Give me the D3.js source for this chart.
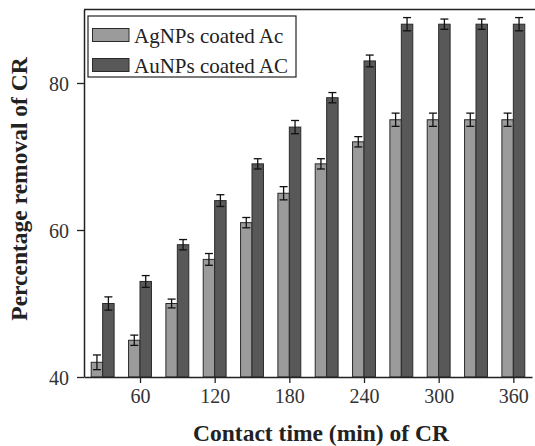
<!DOCTYPE html>
<html>
<head>
<meta charset="utf-8">
<script src="https://cdn.jsdelivr.net/npm/d3@7"></script>
<style>
  body { margin: 0; background: #fff; }
  svg { display: block; font-family: "Liberation Serif", "Times New Roman", serif; }
</style>
</head>
<body>
<div id="chart"></div>
<script>
// contact time (min)
const times = [30, 60, 90, 120, 150, 180, 210, 240, 270, 300, 330, 360];
const seriesNames = ["AgNPs coated Ac", "AuNPs coated AC"];
const agValues = [42, 45, 50, 56, 61, 65, 69, 72, 75, 75, 75, 75];
const agErrors = [1, 0.7, 0.6, 0.8, 0.7, 0.9, 0.7, 0.7, 0.9, 0.9, 0.9, 0.9];
const auValues = [50, 53, 58, 64, 69, 74, 78, 83, 88, 88, 88, 88];
const auErrors = [0.9, 0.8, 0.7, 0.8, 0.7, 0.9, 0.7, 0.8, 0.9, 0.7, 0.7, 0.9];
const xTicks = [60, 120, 180, 240, 300, 360];
const yTicks = [40, 60, 80];

const width = 535, height = 446;
const colors = ["#9b9b9b", "#585858"];

const svg = d3.select("#chart").append("svg")
    .attr("width", width)
    .attr("height", height);

const x = d3.scaleLinear().domain([15, 375]).range([84, 532]);
const y = d3.scaleLinear().domain([40, 90]).range([377, 9.5]);
const barW = 9.2; // in minutes

const rows = [];
times.forEach((t, i) => {
    rows.push({ t: t, v: agValues[i], e: agErrors[i], s: 0 });
    rows.push({ t: t, v: auValues[i], e: auErrors[i], s: 1 });
});

// bars
svg.append("g").selectAll("rect")
    .data(rows)
    .join("rect")
    .attr("x", d => x(d.s === 0 ? d.t - barW : d.t))
    .attr("y", d => y(d.v))
    .attr("width", x(barW) - x(0))
    .attr("height", d => y(40) - y(d.v))
    .attr("fill", d => colors[d.s])
    .attr("stroke", "#2a2a2a")
    .attr("stroke-width", 1);

// error bars
const eb = svg.append("g").attr("stroke", "#111").attr("stroke-width", 1.3);
rows.forEach(d => {
    const cx = x(d.s === 0 ? d.t - barW / 2 : d.t + barW / 2);
    eb.append("line").attr("x1", cx).attr("x2", cx).attr("y1", y(d.v - d.e)).attr("y2", y(d.v + d.e));
    eb.append("line").attr("x1", cx - 4).attr("x2", cx + 4).attr("y1", y(d.v + d.e)).attr("y2", y(d.v + d.e));
    eb.append("line").attr("x1", cx - 4).attr("x2", cx + 4).attr("y1", y(d.v - d.e)).attr("y2", y(d.v - d.e));
});

// axes
const xAxis = svg.append("g")
    .attr("transform", `translate(0,${y(40)})`)
    .call(d3.axisBottom(x).tickValues(xTicks).tickSize(6).tickSizeOuter(0).tickPadding(6));
const yAxis = svg.append("g")
    .attr("transform", `translate(${x(15)},0)`)
    .call(d3.axisLeft(y).tickValues(yTicks).tickSize(7).tickSizeOuter(0).tickPadding(8));

[xAxis, yAxis].forEach(a => {
    a.select(".domain").attr("stroke", "#222").attr("stroke-width", 1.5);
    a.selectAll(".tick line").attr("stroke", "#222").attr("stroke-width", 1.3);
    a.selectAll(".tick text")
        .attr("fill", "#333")
        .style("font-family", "Liberation Serif, serif")
        .style("font-size", "20px");
});
yAxis.selectAll(".tick text").attr("dy", "0.36em");

// top frame line
svg.append("line")
    .attr("x1", x(15)).attr("x2", width)
    .attr("y1", y(90)).attr("y2", y(90))
    .attr("stroke", "#222").attr("stroke-width", 1.5);

// axis titles
svg.append("text")
    .attr("x", 321).attr("y", 441)
    .attr("text-anchor", "middle")
    .style("font-size", "23.5px").style("font-weight", "bold")
    .attr("fill", "#222")
    .text("Contact time (min) of CR");

svg.append("text")
    .attr("transform", "translate(27,189) rotate(-90)")
    .attr("text-anchor", "middle")
    .style("font-size", "23.5px").style("font-weight", "bold")
    .attr("fill", "#222")
    .text("Percentage removal of CR");

// legend
const legend = svg.append("g");
legend.append("rect")
    .attr("x", 88).attr("y", 16).attr("width", 208).attr("height", 61)
    .attr("fill", "#fff").attr("stroke", "#222").attr("stroke-width", 1.2);
seriesNames.forEach((name, i) => {
    legend.append("rect")
        .attr("x", 92.5).attr("y", 28.5 + i * 30).attr("width", 36.5).attr("height", 13)
        .attr("fill", colors[i]).attr("stroke", "#2a2a2a").attr("stroke-width", 1);
    legend.append("text")
        .attr("x", 134).attr("y", 42.5 + i * 30)
        .style("font-size", "21px")
        .attr("fill", "#222")
        .text(name);
});
</script>
</body>
</html>
